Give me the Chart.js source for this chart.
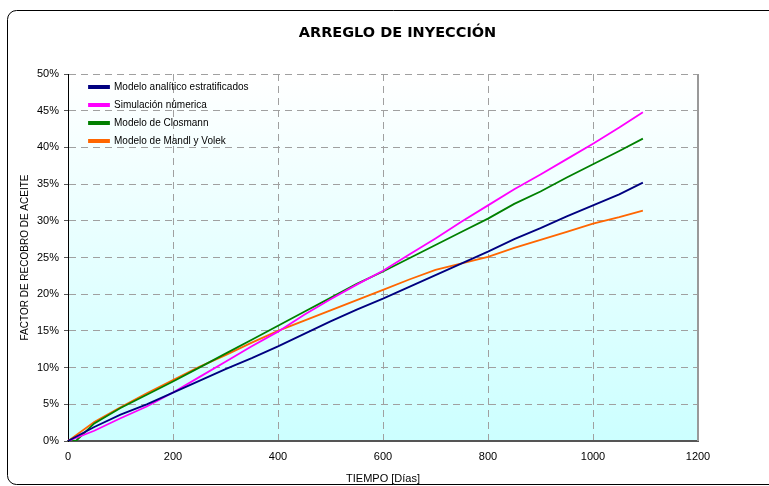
<!DOCTYPE html>
<html>
<head>
<meta charset="utf-8">
<script src="https://cdn.jsdelivr.net/npm/chart.js@4/dist/chart.umd.min.js"></script>
<style>
  html, body { margin: 0; padding: 0; background: #ffffff; }
  #wrap { position: relative; width: 769px; height: 486px; }
</style>
</head>
<body>
<div id="wrap"><canvas id="c" width="769" height="486"></canvas></div>
<script>
// ---- Data ----
const title = 'ARREGLO DE INYECCIÓN';
const xTitle = 'TIEMPO [Días]';
const yTitle = 'FACTOR DE RECOBRO DE ACEITE';
const seriesNames = ['Modelo analítico estratificados', 'Simulación númerica', 'Modelo de Closmann', 'Modelo de Mandl y Volek'];
const seriesColors = ['#000080', '#ff00ff', '#008000', '#ff6600'];

const days = [0, 50, 100, 150, 200, 250, 300, 350, 400, 450, 500, 550, 600, 650, 700, 750, 800, 850, 900, 950, 1000, 1050, 1095];
const analitico = [0, 1.9, 3.6, 5.0, 6.6, 8.2, 9.8, 11.3, 12.9, 14.6, 16.3, 17.9, 19.4, 21.0, 22.6, 24.2, 25.8, 27.5, 29.0, 30.6, 32.1, 33.6, 35.2];
const simulacion = [0, 1.4, 3.1, 4.7, 6.6, 8.7, 10.8, 12.9, 14.9, 17.2, 19.3, 21.3, 23.2, 25.4, 27.6, 29.9, 32.1, 34.3, 36.3, 38.4, 40.5, 42.7, 44.8];
const closmannDays = [0, 15, 50, 100, 150, 200, 250, 300, 350, 400, 450, 500, 550, 600, 650, 700, 750, 800, 850, 900, 950, 1000, 1050, 1095];
const closmann = [0, 0, 2.4, 4.5, 6.3, 8.1, 10.0, 11.9, 13.8, 15.7, 17.6, 19.5, 21.4, 23.1, 24.9, 26.7, 28.5, 30.3, 32.3, 34.0, 35.9, 37.7, 39.5, 41.2];
const mandl = [0, 2.6, 4.6, 6.5, 8.3, 10.1, 11.7, 13.4, 15.0, 16.4, 17.8, 19.2, 20.6, 22.0, 23.3, 24.2, 25.1, 26.3, 27.4, 28.5, 29.6, 30.5, 31.4];

const xTicks = [0, 200, 400, 600, 800, 1000, 1200];
const yTicks = [0, 5, 10, 15, 20, 25, 30, 35, 40, 45, 50];

function pts(xs, ys) { return xs.map((x, i) => ({ x: x, y: ys[i] })); }

const seriesData = [pts(days, analitico), pts(days, simulacion), pts(closmannDays, closmann), pts(days, mandl)];

const datasets = seriesNames.map((name, i) => ({
  label: name,
  data: seriesData[i],
  borderColor: seriesColors[i],
  backgroundColor: seriesColors[i],
  borderWidth: 1.8,
  pointRadius: 0,
  tension: 0,
  fill: false
}));

const tickFont = { family: 'Liberation Sans', size: 11 };

const decor = {
  id: 'decor',
  afterLayout(chart) {
    const a = chart.chartArea;
    if (chart.legend) {
      chart.legend.left = a.left + 13;
      chart.legend.top = a.top;
      chart.legend.bottom = a.bottom;
    }
    if (chart.titleBlock) {
      chart.titleBlock.left += 48.5;
      chart.titleBlock.right += 48.5;
    }
  },
  beforeDraw(chart) {
    const ctx = chart.ctx;
    const a = chart.chartArea;
    ctx.save();
    ctx.fillStyle = '#ffffff';
    ctx.fillRect(0, 0, chart.width, chart.height);
    const g = ctx.createLinearGradient(0, a.top, 0, a.bottom);
    g.addColorStop(0, '#ffffff');
    g.addColorStop(1, '#ccffff');
    ctx.fillStyle = g;
    ctx.fillRect(a.left, a.top, a.right - a.left, a.bottom - a.top);
    // outer rounded frame
    ctx.strokeStyle = '#000000';
    ctx.lineWidth = 1;
    ctx.beginPath();
    ctx.roundRect(7.5, 10.5, 790, 474, 9);
    ctx.stroke();
    ctx.restore();
  },
  beforeDatasetsDraw(chart) {
    const ctx = chart.ctx;
    const a = chart.chartArea;
    ctx.save();
    ctx.strokeStyle = '#999999';
    ctx.lineWidth = 2;
    ctx.beginPath();
    ctx.moveTo(a.right, a.top);
    ctx.lineTo(a.right, a.bottom);
    ctx.stroke();
    ctx.restore();
  }
};

new Chart(document.getElementById('c'), {
  type: 'line',
  data: { datasets: datasets },
  plugins: [decor],
  options: {
    responsive: false,
    animation: false,
    layout: { padding: { left: 0, right: 71, top: 0, bottom: 0 } },
    plugins: {
      title: {
        display: true,
        text: title,
        color: '#000000',
        font: { family: 'DejaVu Sans', size: 14.5, weight: 'bold', lineHeight: 1.2 },
        padding: { top: 24.5, bottom: 32.1 }
      },
      legend: {
        position: 'chartArea',
        align: 'start',
        labels: {
          boxWidth: 20,
          boxHeight: 2,
          padding: 8,
          color: '#000000',
          font: { family: 'Liberation Sans', size: 10 }
        }
      },
      tooltip: { enabled: false }
    },
    scales: {
      x: {
        type: 'linear',
        min: 0,
        max: 1200,
        afterFit(scale) { scale.height = 45; },
        afterBuildTicks(scale) { scale.ticks = xTicks.map(v => ({ value: v })); },
        ticks: { font: tickFont, color: '#000000', padding: 9, maxRotation: 0, callback: v => String(v) },
        grid: { color: '#a0a0a0', lineWidth: 1, drawTicks: false },
        border: { color: '#555555', width: 2, dash: [7, 5] },
        title: {
          display: true,
          text: xTitle,
          color: '#000000',
          font: { family: 'Liberation Sans', size: 11 },
          padding: { top: 0, bottom: 0 }
        }
      },
      y: {
        min: 0,
        max: 50,
        afterFit(scale) { scale.width = 68; },
        afterBuildTicks(scale) { scale.ticks = yTicks.map(v => ({ value: v })); },
        ticks: { font: tickFont, color: '#000000', padding: 5, callback: v => v + '%' },
        grid: { color: '#a0a0a0', lineWidth: 1, tickLength: 4, tickColor: '#555555', tickBorderDash: [] },
        border: { color: '#000000', width: 1, dash: [7, 5] },
        title: {
          display: true,
          text: yTitle,
          color: '#000000',
          font: { family: 'Liberation Sans', size: 10 },
          padding: { top: 19, bottom: 0 }
        }
      }
    }
  }
});
</script>
</body>
</html>
